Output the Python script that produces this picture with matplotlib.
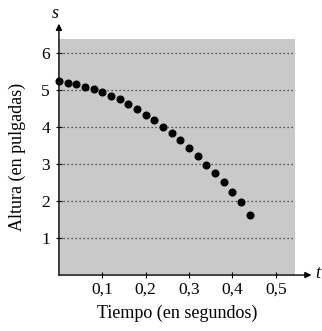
import matplotlib
matplotlib.use("Agg")
import matplotlib.pyplot as plt

plt.rcParams['font.family'] = ['Liberation Serif', 'DejaVu Serif']

# tiempo (s) y altura (pulgadas)
t = [0.00, 0.02, 0.04, 0.06, 0.08, 0.10, 0.12, 0.14, 0.16, 0.18, 0.20, 0.22,
     0.24, 0.26, 0.28, 0.30, 0.32, 0.34, 0.36, 0.38, 0.40, 0.42, 0.44]
s = [5.25, 5.21, 5.17, 5.09, 5.03, 4.95, 4.86, 4.76, 4.64, 4.50, 4.34, 4.19,
     4.02, 3.84, 3.65, 3.44, 3.22, 2.99, 2.76, 2.51, 2.26, 1.98, 1.62]

xticks = [0.1, 0.2, 0.3, 0.4, 0.5]
xticklabels = ["0,1", "0,2", "0,3", "0,4", "0,5"]
yticks = [1, 2, 3, 4, 5, 6]

fig = plt.figure(figsize=(3.22, 3.31), dpi=100)
ax = fig.add_axes([0.183, 0.169, 0.733, 0.713])
ax.set_facecolor('#c9c9c9')

ax.set_xlim(0, 0.544)
ax.set_ylim(0, 6.39)

for y in yticks:
    ax.axhline(y, color='#2a2a2a', lw=0.9, ls=(0, (1, 2.2)), zorder=1)

ax.plot(t, s, 'o', color='black', ms=4.8, zorder=3, clip_on=False)

for sp in ax.spines.values():
    sp.set_visible(False)

# ejes con flechas
ax.annotate('', xy=(1.07, 0), xytext=(0, 0), xycoords='axes fraction',
            arrowprops=dict(arrowstyle='-|>', color='black', lw=1.0,
                            mutation_scale=9, shrinkA=0, shrinkB=0))
ax.annotate('', xy=(0, 1.065), xytext=(0, 0), xycoords='axes fraction',
            arrowprops=dict(arrowstyle='-|>', color='black', lw=1.0,
                            mutation_scale=9, shrinkA=0, shrinkB=0))
ax.text(1.097, 0.005, 't', transform=ax.transAxes, fontsize=13, style='italic',
        ha='center', va='center')
ax.text(-0.015, 1.11, 's', transform=ax.transAxes, fontsize=13, style='italic',
        ha='center', va='center')

ax.set_xticks(xticks)
ax.set_xticklabels(xticklabels, fontsize=12.5)
ax.set_yticks(yticks)
ax.set_yticklabels([str(v) for v in yticks], fontsize=12.5)
ax.tick_params(axis='x', direction='inout', length=5, width=0.8, pad=2)
ax.tick_params(axis='y', direction='inout', length=5, width=0.8, pad=4)

ax.set_xlabel('Tiempo (en segundos)', fontsize=13, labelpad=5)
ax.set_ylabel('Altura (en pulgadas)', fontsize=13, labelpad=11)

fig.savefig('out.png', dpi=100)
